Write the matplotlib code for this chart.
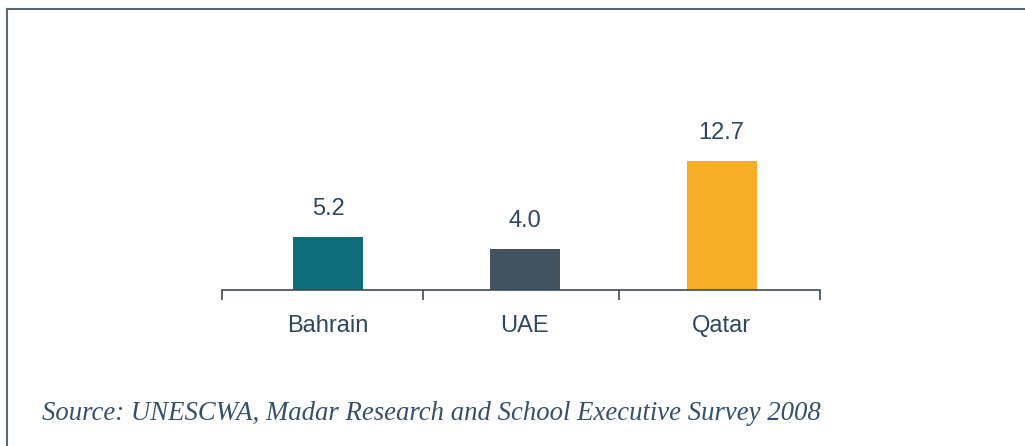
import matplotlib.pyplot as plt
import numpy as np

# 数据
countries = ['Bahrain', 'UAE', 'Qatar']
values = [5.2, 4.0, 12.7]
colors = ['#0f6e7b', '#45535f', '#f6ae28']
source = 'Source: UNESCWA, Madar Research and School Executive Survey 2008'

text_color = '#2e4760'

fig = plt.figure(figsize=(10.25, 4.46), dpi=100)
ax = fig.add_axes([222 / 1025, 1 - 290 / 446, (820 - 222) / 1025, 142 / 446])

x = np.arange(len(countries))
bars = ax.bar(x, values, width=0.355, color=colors)

# 数值标签
for xi, v in zip(x, values):
    ax.annotate(f'{v:.1f}', (xi, v), xytext=(0, 16), textcoords='offset points',
                ha='center', va='baseline', fontsize=17, color=text_color,
                family='Liberation Sans')

ax.set_xlim(-0.54, 2.5)
ax.set_ylim(0, 14)

# 坐标轴样式
for side in ['top', 'right', 'left']:
    ax.spines[side].set_visible(False)
ax.spines['bottom'].set_color('#3d4a55')
ax.spines['bottom'].set_linewidth(1.2)
ax.set_yticks([])

ax.set_xticks([-0.54, 0.48, 1.48, 2.5])
ax.set_xticklabels([])
ax.tick_params(axis='x', length=7, width=1.2, color='#3d4a55', direction='out')
for xi, name in zip(x, countries):
    ax.annotate(name, (xi, 0), xytext=(0, -18), textcoords='offset points',
                ha='center', va='top', fontsize=17, color=text_color,
                family='Liberation Sans')

# 外框（上边和左边）
fig.add_artist(plt.Line2D([7 / 1025, 1.0], [1 - 9 / 446, 1 - 9 / 446],
                          color='#5b6670', linewidth=1.5, transform=fig.transFigure))
fig.add_artist(plt.Line2D([7 / 1025, 7 / 1025], [0.0, 1 - 9 / 446],
                          color='#5b6670', linewidth=1.5, transform=fig.transFigure))

# 来源
fig.text(42 / 1025, 1 - 414 / 446, source, ha='left', va='center',
         fontsize=19.3, style='italic', color='#34506c', family='Liberation Serif')

plt.savefig('out.png', dpi=100)
